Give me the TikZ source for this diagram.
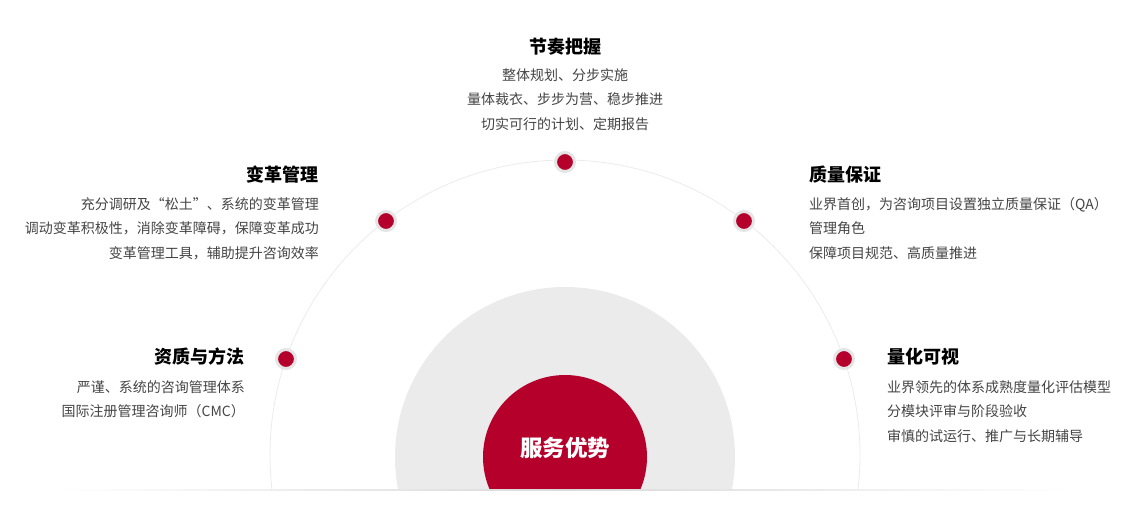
\documentclass[tikz,border=0pt]{standalone}
\usepackage{fontspec}
\setmainfont{Noto Sans CJK SC}
\usetikzlibrary{fadings}
\definecolor{rd}{HTML}{B5002B}
\definecolor{tx}{HTML}{444444}
\tikzset{
 ttl/.style={font=\fontsize{18}{20}\selectfont\bfseries,text=black,inner sep=0pt},
 bdy/.style={font=\fontsize{14}{24.5}\selectfont,text=tx,inner sep=0pt},
 dot/.style={circle,fill=rd,draw=black!10,line width=3pt,minimum size=19pt,inner sep=0pt},
}
\begin{document}
\begin{tikzpicture}[x=1pt,y=-1pt]
\useasboundingbox (0,0) rectangle (1130,531);
\begin{scope}
\clip (0,0) rectangle (1130,490);
\draw[black!8,line width=0.8pt] (565,455) circle (295);
\fill[black!8] (565,457) circle (170);
\fill[rd] (565,457) circle (82);
\end{scope}
\path[left color=white,right color=white,middle color=black!15] (60,489.5) rectangle (1070,490.5);
\node[font=\fontsize{22.5}{24}\selectfont\bfseries,text=white] (c) at (565,448) {服务优势};
\node[dot] (d1) at (565,162) {};
\node[dot] (d2) at (386,221) {};
\node[dot] (d3) at (744,221) {};
\node[dot] (d4) at (286,359) {};
\node[dot] (d5) at (844,359) {};
\node[ttl] (t1) at (565,47) {节奏把握};
\node[bdy,align=center,anchor=north] (b1) at (565,68) {整体规划、分步实施\\量体裁衣、步步为营、稳步推进\\切实可行的计划、定期报告};
\node[ttl,anchor=east] (t2) at (319,175) {变革管理};
\node[bdy,align=right,anchor=north east] (b2) at (319,197) {充分调研及“松土”、系统的变革管理\\调动变革积极性，消除变革障碍，保障变革成功\\变革管理工具，辅助提升咨询效率};
\node[ttl,anchor=west] (t3) at (809,175) {质量保证};
\node[bdy,align=left,anchor=north west] (b3) at (809,197) {业界首创，为咨询项目设置独立质量保证（QA）\\管理角色\\保障项目规范、高质量推进};
\node[ttl,anchor=east] (t4) at (245,357) {资质与方法};
\node[bdy,align=right,anchor=north east] (b4) at (245,380) {严谨、系统的咨询管理体系\\国际注册管理咨询师（CMC）};
\node[ttl,anchor=west] (t5) at (887,357) {量化可视};
\node[bdy,align=left,anchor=north west] (b5) at (887,380) {业界领先的体系成熟度量化评估模型\\分模块评审与阶段验收\\审慎的试运行、推广与长期辅导};
\end{tikzpicture}
\end{document}
